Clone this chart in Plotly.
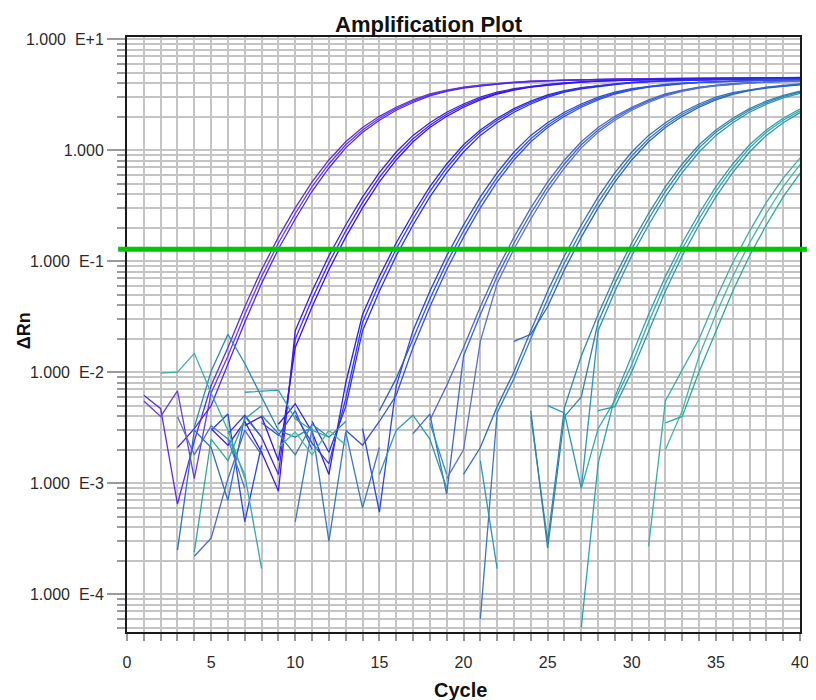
import plotly.graph_objects as go

N = None
CYCLES = list(range(1, 41))
THRESHOLD = 0.128

X_TICKS = [0, 5, 10, 15, 20, 25, 30, 35, 40]
Y_TICKS = [1e-4, 1e-3, 1e-2, 1e-1, 1, 10]
Y_LABELS = ["1.000\u00a0\u00a0E-4", "1.000\u00a0\u00a0E-3", "1.000\u00a0\u00a0E-2",
            "1.000\u00a0\u00a0E-1", "1.000", "1.000\u00a0\u00a0E+1"]

# each well: first cycle, then one ΔRn value per cycle (None = not positive / not drawn)
G1A_START = 1
G1A = [0.0062, 0.0047, 0.00065, 0.0024, 0.0076, 0.0167, 0.0389, 0.0839, 0.165, 0.302,
       0.518, 0.817, 1.19, 1.60, 2.02, 2.44, 2.84, 3.21, 3.48, 3.70,
       3.85, 3.99, 4.11, 4.19, 4.24, 4.29, 4.32, 4.35, 4.37, 4.39,
       4.41, 4.43, 4.44, 4.45, 4.46, 4.47, 4.48, 4.49, 4.50, 4.50]
G1B_START = 1
G1B = [0.0055, 0.0040, 0.0068, 0.0011, 0.0065, 0.0140, 0.0331, 0.0728, 0.146, 0.269,
       0.470, 0.752, 1.12, 1.52, 1.94, 2.37, 2.77, 3.15, 3.44, 3.66,
       3.83, 3.96, 4.09, 4.18, 4.23, 4.28, 4.32, 4.35, 4.37, 4.39,
       4.41, 4.42, 4.43, 4.44, 4.45, 4.46, 4.47, 4.48, 4.48, 4.49]
G1C_START = 3
G1C = [0.0021, 0.0031, 0.0050, 0.0117, 0.0282, 0.0631, 0.129, 0.240, 0.427, 0.692,
       1.05, 1.45, 1.86, 2.29, 2.69, 3.09, 3.39, 3.63, 3.80, 3.94,
       4.07, 4.17, 4.22, 4.27, 4.31, 4.34, 4.37, 4.39, 4.41, 4.43,
       4.45, 4.46, 4.47, 4.48, 4.49, 4.50, 4.51, 4.52]

G2A_START = 5
G2A = [0.0031, 0.0022, 0.0036, 0.0019, 0.00085, 0.0237, 0.0537, 0.112, 0.212, 0.380,
       0.628, 0.964, 1.36, 1.77, 2.20, 2.61, 3.01, 3.33, 3.58, 3.77,
       3.91, 4.05, 4.15, 4.21, 4.26, 4.31, 4.34, 4.36, 4.38, 4.40,
       4.42, 4.43, 4.44, 4.45, 4.46, 4.47]
G2B_START = 6
G2B = [0.0028, 0.0041, 0.0026, 0.0012, 0.0199, 0.0457, 0.0968, 0.187, 0.339, 0.570,
       0.887, 1.27, 1.68, 2.11, 2.52, 2.92, 3.27, 3.53, 3.73, 3.88,
       4.02, 4.13, 4.20, 4.25, 4.30, 4.33, 4.36, 4.38, 4.40, 4.41,
       4.42, 4.43, 4.44, 4.45, 4.46]
G2C_START = 7
G2C = [0.0033, 0.0040, 0.0016, 0.0167, 0.0389, 0.0839, 0.165, 0.302, 0.518, 0.817,
       1.19, 1.60, 2.02, 2.44, 2.84, 3.21, 3.48, 3.70, 3.85, 3.99,
       4.11, 4.19, 4.24, 4.29, 4.32, 4.35, 4.37, 4.39, 4.40, 4.41,
       4.42, 4.43, 4.44, 4.45]

G3A_START = 9
G3A = [0.0034, 0.0052, 0.0029, 0.0012, 0.0080, 0.0331, 0.0728, 0.146, 0.269, 0.470,
       0.752, 1.12, 1.52, 1.94, 2.37, 2.77, 3.15, 3.44, 3.66, 3.83,
       3.96, 4.09, 4.18, 4.23, 4.28, 4.32, 4.35, 4.37, 4.39, 4.41,
       4.42, 4.43]
G3B_START = 10
G3B = [0.0041, 0.0023, 0.0015, 0.0058, 0.0282, 0.0631, 0.129, 0.240, 0.427, 0.692,
       1.05, 1.45, 1.86, 2.29, 2.69, 3.09, 3.39, 3.63, 3.80, 3.94,
       4.07, 4.17, 4.22, 4.27, 4.31, 4.34, 4.36, 4.38, 4.40, 4.41, 4.42]
G3C_START = 11
G3C = [0.0036, 0.0019, 0.0049, 0.0237, 0.0537, 0.112, 0.212, 0.380, 0.628, 0.964,
       1.36, 1.77, 2.20, 2.61, 3.01, 3.33, 3.58, 3.77, 3.91, 4.05,
       4.15, 4.21, 4.26, 4.30, 4.33, 4.35, 4.37, 4.38, 4.39, 4.40]

G4A_START = 5
G4A = [0.0030, 0.0042, 0.00045, 0.0022, N, N, N, N, N, 0.0031,
       0.00055, 0.0075, 0.0237, 0.0537, 0.112, 0.212, 0.380, 0.628, 0.964, 1.36,
       1.77, 2.20, 2.61, 3.01, 3.33, 3.58, 3.77, 3.91, 4.02, 4.10,
       4.16, 4.21, 4.24, 4.27, 4.29, 4.31]
G4B_START = 8
G4B = [0.0035, 0.0027, 0.0045, 0.0020, N, N, N, 0.0045, 0.0088, 0.0199,
       0.0457, 0.0968, 0.187, 0.339, 0.570, 0.887, 1.27, 1.68, 2.11, 2.52,
       2.92, 3.27, 3.53, 3.73, 3.88, 4.00, 4.09, 4.15, 4.20, 4.24,
       4.27, 4.29, 4.31]
G4C_START = 13
G4C = [0.0030, 0.0022, 0.0036, 0.0062, 0.0167, 0.0389, 0.0839, 0.165, 0.302, 0.518,
       0.817, 1.19, 1.60, 2.02, 2.44, 2.84, 3.21, 3.48, 3.70, 3.85,
       3.97, 4.07, 4.14, 4.19, 4.23, 4.26, 4.28, 4.30]

G5A_START = 4
G5A = [0.00022, 0.00032, 0.0011, 0.0030, 0.0018, N, N, N, N, N,
       N, N, N, N, 0.0037, 0.0076, 0.0167, 0.0389, 0.0839, 0.165,
       0.302, 0.518, 0.817, 1.19, 1.60, 2.02, 2.44, 2.84, 3.21, 3.48,
       3.70, 3.85, 3.97, 4.07, 4.14, 4.19, 4.23]
G5B_START = 17
G5B = [0.0028, 0.0042, 0.00080, 0.0140, 0.0331, 0.0728, 0.146, 0.269, 0.470, 0.752,
       1.12, 1.52, 1.94, 2.37, 2.77, 3.15, 3.44, 3.66, 3.83, 3.95,
       4.05, 4.12, 4.17, 4.21]
G5C_START = 3
G5C = [0.0040, 0.0018, 0.0033, 0.0025, 0.0009, N, N, N, N, N,
       N, N, N, N, N, N, 0.0011, 0.0020, 0.0190, 0.0631,
       0.129, 0.240, 0.427, 0.692, 1.05, 1.45, 1.86, 2.29, 2.69, 3.09,
       3.39, 3.63, 3.80, 3.93, 4.03, 4.10, 4.15, 4.19]

G6A_START = 3
G6A = [0.00025, 0.0030, 0.0021, 0.0007, 0.0040, 0.0026, N, N, N, N,
       N, N, N, N, N, N, N, 0.0012, 0.0021, 0.0049,
       0.0101, 0.0237, 0.0537, 0.112, 0.212, 0.380, 0.628, 0.964, 1.36, 1.77,
       2.20, 2.61, 3.01, 3.30, 3.52, 3.70, 3.84, 3.96]
G6B_START = 10
G6B = [0.00045, 0.0031, 0.00030, 0.0029, 0.00060, 0.0021, N, N, N, N,
       N, 0.00006, 0.0043, 0.0088, 0.0199, 0.0457, 0.0968, 0.187, 0.339, 0.570,
       0.887, 1.27, 1.68, 2.11, 2.52, 2.92, 3.24, 3.48, 3.66, 3.80, 3.92]
G6C_START = 23
G6C = [0.019, 0.022, 0.0389, 0.0839, 0.165, 0.302, 0.518, 0.817, 1.19, 1.60,
       2.02, 2.44, 2.84, 3.18, 3.44, 3.63, 3.77, 3.89]

G7A_START = 4
G7A = [0.0032, 0.0102, 0.022, 0.0120, 0.0060, 0.0030, 0.0026, 0.0032, N, N,
       N, N, N, N, N, N, N, N, N, N,
       0.0040, 0.00030, 0.0048, 0.0140, 0.0331, 0.0728, 0.146, 0.269, 0.470, 0.752,
       1.12, 1.52, 1.94, 2.37, 2.77, 3.12, 3.40]
G7B_START = 8
G7B = [0.0041, 0.0028, 0.0018, 0.0034, 0.0026, 0.0036, N, N, N, N,
       N, N, N, N, N, N, 0.0045, 0.00026, 0.0040, 0.0060,
       0.0282, 0.0631, 0.129, 0.240, 0.427, 0.692, 1.05, 1.45, 1.86, 2.29,
       2.69, 3.05, 3.33]
G7C_START = 18
G7C = [0.0035, 0.0012, N, 0.0016, 0.00017, N, N, 0.0050, 0.0043, 0.0009,
       0.0237, 0.0537, 0.112, 0.212, 0.380, 0.628, 0.964, 1.36, 1.77, 2.20,
       2.60, 2.96, 3.25]

G8A_START = 7
G8A = [0.0066, 0.0068, 0.0069, 0.0038, 0.0030, 0.0026, N, N, N, N,
       N, N, N, N, N, N, N, N, N, N,
       0.00005, 0.0015, 0.0060, 0.0140, 0.0331, 0.0728, 0.146, 0.269, 0.470, 0.752,
       1.12, 1.52, 1.94, 2.35]
G8B_START = 6
G8B = [0.0026, 0.0012, 0.00017, N, N, N, N, N, N, N,
       N, N, N, N, N, N, N, N, N, N,
       N, 0.0009, 0.0031, 0.0056, 0.0117, 0.0282, 0.0631, 0.129, 0.240, 0.427,
       0.692, 1.05, 1.45, 1.86, 2.27]
G8C_START = 15
G8C = [0.0012, 0.0030, 0.0041, 0.0025, 0.0009, N, N, N, N, N,
       N, N, N, 0.0045, 0.0049, 0.0101, 0.0237, 0.0537, 0.112, 0.212,
       0.380, 0.628, 0.964, 1.36, 1.77, 2.18]

G9A_START = 2
G9A = [0.0098, 0.0100, 0.0148, 0.0065, 0.0030, 0.0011, N, N, N, N,
       N, N, N, N, N, N, N, N, N, N,
       N, N, N, N, N, N, N, N, N, 0.00027,
       0.0055, 0.0105, 0.0199, 0.0457, 0.0968, 0.187, 0.339, 0.560, 0.85]
G9B_START = 9
G9B = [0.0021, 0.0029, 0.0018, 0.0030, 0.0022, N, N, N, N, N,
       N, N, N, N, N, N, N, N, N, N,
       N, N, N, 0.0020, 0.0045, 0.0140, 0.0331, 0.0728, 0.146, 0.269,
       0.470, 0.74]
G9C_START = 4
G9C = [0.00024, 0.0025, 0.0016, 0.0038, 0.0050, N, N, N, N, N,
       N, N, N, N, N, N, N, N, N, N,
       N, N, N, N, N, N, N, N, 0.0035, 0.0040,
       0.0101, 0.0237, 0.0537, 0.112, 0.212, 0.380, 0.62]

WELLS = [
    (G1A_START, G1A, "#5b2ee6"), (G1B_START, G1B, "#6a3cdc"), (G1C_START, G1C, "#4f26ee"),
    (G2A_START, G2A, "#3c1cf0"), (G2B_START, G2B, "#4626e6"), (G2C_START, G2C, "#3214f5"),
    (G3A_START, G3A, "#2a22ee"), (G3B_START, G3B, "#3a3ae0"), (G3C_START, G3C, "#2430f2"),
    (G4A_START, G4A, "#2446e6"), (G4B_START, G4B, "#2d55dd"), (G4C_START, G4C, "#3a4fd8"),
    (G5A_START, G5A, "#4a68cc"), (G5B_START, G5B, "#3f66d2"), (G5C_START, G5C, "#5872c4"),
    (G6A_START, G6A, "#2e6ec4"), (G6B_START, G6B, "#3a78c0"), (G6C_START, G6C, "#2a64b8"),
    (G7A_START, G7A, "#2a8ab4"), (G7B_START, G7B, "#3482aa"), (G7C_START, G7C, "#2896b8"),
    (G8A_START, G8A, "#2aa2b4"), (G8B_START, G8B, "#33a8b0"), (G8C_START, G8C, "#3098a8"),
    (G9A_START, G9A, "#38b0a0"), (G9B_START, G9B, "#46b8a4"), (G9C_START, G9C, "#2ea89c"),
]

FONT = "Arial, 'Liberation Sans', sans-serif"
GRID = "#c4c4c4"
TICKC = "#9a9a9a"

fig = go.Figure()
for start, vals, color in WELLS:
    fig.add_trace(go.Scatter(
        x=CYCLES[start - 1:start - 1 + len(vals)], y=vals, mode="lines",
        line=dict(color=color, width=1.3), connectgaps=False,
        hoverinfo="skip", showlegend=False))

minor_y = [m * 10 ** e for e in range(-5, 2) for m in range(2, 10)]

# the page body adds an 8 px margin, so the figure is 8 px smaller than the window
fig.update_layout(
    width=808, height=692, autosize=False,
    margin=dict(l=119, r=7, t=29, b=68),
    plot_bgcolor="white", paper_bgcolor="white",
    showlegend=False,
    font=dict(family=FONT, size=16, color="#2a2a2a"),
    shapes=[dict(type="line", xref="paper", yref="y", x0=-0.0132, x1=1.0103,
                 y0=THRESHOLD, y1=THRESHOLD, layer="above",
                 line=dict(color="#00c800", width=5))],
    annotations=[
        dict(text="<b>Amplification Plot</b>", xref="paper", yref="paper",
             x=0.4487, y=1.0218, showarrow=False, xanchor="center", yanchor="middle",
             font=dict(family=FONT, size=22, color="#111")),
        dict(text="<b>Cycle</b>", xref="paper", yref="paper",
             x=0.4956, y=-0.0975, showarrow=False, xanchor="center", yanchor="middle",
             font=dict(family=FONT, size=20, color="#111")),
        dict(text="<b>ΔRn</b>", xref="paper", yref="paper", textangle=-90,
             x=-0.1525, y=0.506, showarrow=False, xanchor="center", yanchor="middle",
             font=dict(family=FONT, size=18, color="#111")),
    ],
)

fig.update_xaxes(
    range=[0, 40], tickmode="array", tickvals=X_TICKS, ticktext=[str(v) for v in X_TICKS],
    ticks="outside", ticklen=7, tickcolor=TICKC, tickwidth=1.5,
    showgrid=True, gridcolor=GRID, gridwidth=1.6,
    minor=dict(dtick=1, ticks="outside", ticklen=7, tickcolor=TICKC, tickwidth=1.5,
               showgrid=True, gridcolor=GRID, gridwidth=1.6),
    showline=True, linecolor="#1a1a1a", linewidth=2, mirror=True, zeroline=False,
    ticklabelstandoff=8, tickfont=dict(size=16, color="#2a2a2a"),
)
fig.update_yaxes(
    type="log", range=[-4.34, 1.02], tickmode="array", tickvals=Y_TICKS, ticktext=Y_LABELS,
    ticks="outside", ticklen=18, tickcolor=TICKC, tickwidth=1.5,
    showgrid=True, gridcolor=GRID, gridwidth=1.6,
    minor=dict(tickmode="array", tickvals=minor_y, ticks="outside", ticklen=8,
               tickcolor=TICKC, tickwidth=1.5, showgrid=True, gridcolor=GRID, gridwidth=1.6),
    showline=True, linecolor="#1a1a1a", linewidth=2, mirror=True, zeroline=False,
    tickfont=dict(size=16, color="#2a2a2a"),
)

fig.write_html("out.html")
